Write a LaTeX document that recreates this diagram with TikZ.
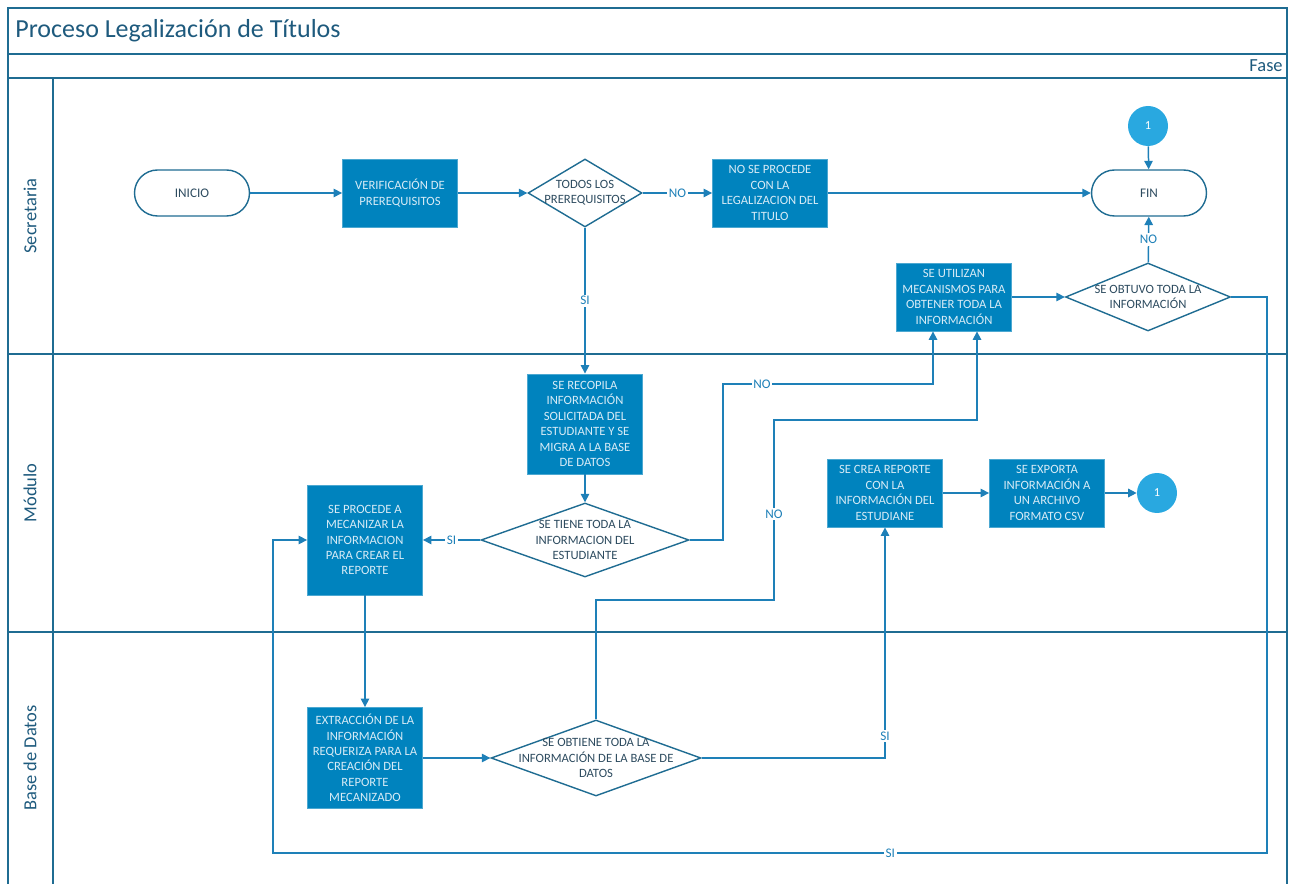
\documentclass[tikz,border=0pt]{standalone}
\usepackage{fontspec}
\setmainfont{Carlito}
\usetikzlibrary{arrows.meta,shapes.geometric}
\definecolor{boxfill}{RGB}{0,131,190}
\definecolor{boxtext}{RGB}{215,235,246}
\definecolor{lineblue}{RGB}{30,128,184}
\definecolor{framec}{RGB}{31,108,146}
\definecolor{titletext}{RGB}{30,90,125}
\definecolor{darktext}{RGB}{45,75,95}
\definecolor{circfill}{RGB}{41,168,224}
\tikzset{
  procbox/.style={rectangle, fill=boxfill, draw=boxfill!70!white, line width=0.5pt,
    text=boxtext, font=\fontsize{7.2}{8.8}\selectfont, align=center, inner sep=0pt,
    minimum width=2.3cm, minimum height=1.36cm},
  term/.style={rectangle, rounded corners=0.46cm, draw=framec, line width=0.8pt,
    minimum width=2.3cm, minimum height=0.92cm, text=darktext,
    font=\fontsize{7.5}{9}\selectfont},
  dec/.style={diamond, draw=framec, line width=0.8pt, inner sep=0pt},
  dectext/.style={text=darktext, font=\fontsize{7.2}{8.8}\selectfont, align=center, inner sep=0pt},
  conn/.style={circle, fill=circfill, minimum size=0.8cm, inner sep=0pt, text=white,
    font=\fontsize{7}{8}\selectfont},
  arr/.style={draw=lineblue, line width=0.85pt, -{Triangle[length=4.8pt,width=4.8pt]}},
  lbl/.style={fill=white, text=lineblue, font=\fontsize{7.5}{9}\selectfont, inner sep=1pt},
  frameline/.style={draw=framec, line width=0.85pt},
  lane/.style={text=titletext, font=\fontsize{10.5}{12}\selectfont, rotate=90}
}
\begin{document}
\begin{tikzpicture}[x=0.02cm,y=-0.02cm]
\useasboundingbox (0,0) rectangle (1291,884);
% frame
\draw[frameline] (8,884) -- (8,8) -- (1287,8) -- (1287,884);
\draw[frameline] (8,54) -- (1287,54);
\draw[frameline] (8,78) -- (1287,78);
\draw[frameline] (8,354) -- (1287,354);
\draw[frameline] (8,632) -- (1287,632);
\draw[frameline] (53,78) -- (53,884);
\node[anchor=west, text=titletext, font=\fontsize{14.8}{17}\selectfont, inner sep=0pt] (title) at (15,31) {Proceso Legalización de Títulos};
\node[anchor=east, text=titletext, font=\fontsize{10.5}{12}\selectfont, inner sep=0pt] (fase) at (1283,66) {Fase};
\node[lane] (l1) at (30,216) {Secretaria};
\node[lane] (l2) at (30,493) {Módulo};
\node[lane] (l3) at (30,758) {Base de Datos};

% nodes
\node[term] (inicio) at (192,193) {INICIO};
\node[procbox] (verif) at (400,193) {VERIFICACIÓN DE\\PREREQUISITOS};
\node[dec, minimum width=2.28cm, minimum height=1.36cm] (d1) at (585,193) {};
\node[dectext] (d1t) at (585,193) {TODOS LOS\\PREREQUISITOS};
\node[procbox] (nosep) at (770,193) {NO SE PROCEDE\\CON LA\\LEGALIZACION DEL\\TITULO};
\node[term] (fin) at (1149,193) {FIN};
\node[conn] (c1) at (1148,126) {1};
\node[procbox] (util) at (954,297) {SE UTILIZAN\\MECANISMOS PARA\\OBTENER TODA LA\\INFORMACIÓN};
\node[dec, minimum width=3.3cm, minimum height=1.36cm] (d5) at (1148,297) {};
\node[dectext] (d5t) at (1148,297) {SE OBTUVO TODA LA\\INFORMACIÓN};
\node[procbox, minimum height=2.0cm] (recop) at (585,424) {SE RECOPILA\\INFORMACIÓN\\SOLICITADA DEL\\ESTUDIANTE Y SE\\MIGRA A LA BASE\\DE DATOS};
\node[dec, minimum width=4.16cm, minimum height=1.48cm] (d2) at (585,540) {};
\node[dectext] (d2t) at (585,540) {SE TIENE TODA LA\\INFORMACION DEL\\ESTUDIANTE};
\node[procbox, minimum height=2.2cm] (mecan) at (365,540) {SE PROCEDE A\\MECANIZAR LA\\INFORMACION\\PARA CREAR EL\\REPORTE};
\node[procbox] (crea) at (885,493) {SE CREA REPORTE\\CON LA\\INFORMACIÓN DEL\\ESTUDIANE};
\node[procbox] (expo) at (1047,493) {SE EXPORTA\\INFORMACIÓN A\\UN ARCHIVO\\FORMATO CSV};
\node[conn] (c2) at (1157,493) {1};
\node[procbox, minimum height=2.02cm] (extr) at (365,758) {EXTRACCIÓN DE LA\\INFORMACIÓN\\REQUERIZA PARA LA\\CREACIÓN DEL\\REPORTE\\MECANIZADO};
\node[dec, minimum width=4.2cm, minimum height=1.52cm] (d6) at (596,758) {};
\node[dectext] (d6t) at (596,758) {SE OBTIENE TODA LA\\INFORMACIÓN DE LA BASE DE\\DATOS};

% coordinates for bends
\coordinate (k1) at (723,540);
\coordinate (k2) at (723,384);
\coordinate (k3) at (933,384);
\coordinate (m1) at (596,600);
\coordinate (m2) at (774,600);
\coordinate (m3) at (774,420);
\coordinate (m4) at (977,420);
\coordinate (s1) at (885,758);
\coordinate (r1) at (1267,297);
\coordinate (r2) at (1267,853);
\coordinate (r3) at (273,853);
\coordinate (r4) at (273,540);

% connectors
\draw[arr] (inicio) -- (verif);
\draw[arr] (verif) -- (d1);
\draw[arr] (d1) -- node[lbl]{NO} (nosep);
\draw[arr] (nosep) -- (fin);
\draw[arr] (c1) -- (fin);
\draw[arr] (d5) -- node[lbl]{NO} (fin);
\draw[arr] (util) -- (d5);
\draw[arr] (d1) -- node[lbl]{SI} (recop);
\draw[arr] (recop) -- (d2);
\draw[arr] (d2) -- node[lbl]{SI} (mecan);
\draw[arr] (d2.east) -- (k1) -- (k2) -- node[lbl,pos=0.186]{NO} (k3) -- (util.south -| k3);
\draw[arr] (d6.north) -- (m1) -- (m2) -- node[lbl,pos=0.478]{NO} (m3) -- (m4) -- (util.south -| m4);
\draw[arr] (d6.east) -- (s1) -- node[lbl,pos=0.095]{SI} (crea.south);
\draw[arr] (crea) -- (expo);
\draw[arr] (expo) -- (c2);
\draw[arr] (mecan) -- (extr);
\draw[arr] (extr) -- (d6);
\draw[arr] (d5.east) -- (r1) -- (r2) -- node[lbl,pos=0.379]{SI} (r3) -- (r4) -- (mecan.west);
\end{tikzpicture}
\end{document}
